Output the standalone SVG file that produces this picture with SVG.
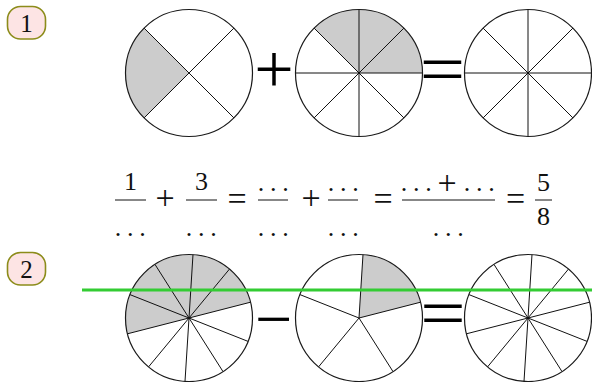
<svg xmlns="http://www.w3.org/2000/svg" width="592" height="382" viewBox="0 0 592 382">
<style>
.bg{fill:#ffffff}
.rim{fill:none;stroke:#1a1a1a;stroke-width:1.2}
.sp{stroke:#111;stroke-width:1;fill:none}
.sh{fill:#cccccc;stroke:none}
.lab rect{fill:#fde4e4;stroke:#8c8c1a;stroke-width:1.6}
.lab text{font-family:"Liberation Serif",serif;font-size:25px;fill:#111;text-anchor:middle}
.m{font-family:"Liberation Serif",serif;font-size:26px;fill:#111;text-anchor:middle}
.op{font-family:"Liberation Serif",serif;font-size:34px;fill:#111;text-anchor:middle}
.big{font-family:"Liberation Serif",serif;fill:#000;text-anchor:middle}
.bar{stroke:#111;stroke-width:1}
.green{stroke:#33cc33;stroke-width:3}
</style>
<rect class="bg" x="0" y="0" width="592" height="382"/>

<g id="label1" class="lab"><rect x="7.5" y="6.5" width="38" height="32.5" rx="13"/><text x="26.5" y="31.5">1</text></g>
<g id="label2" class="lab"><rect x="7.5" y="252.5" width="38" height="32.5" rx="13"/><text x="26.5" y="277.5">2</text></g>

<!-- Row 1 -->
<g id="r1c1">
<path class="sh" d="M189,73 L144.10,28.10 A63.5,63.5 0 0 0 144.10,117.90 Z"/>
<line class="sp" x1="144.10" y1="28.10" x2="233.90" y2="117.90"/>
<line class="sp" x1="233.90" y1="28.10" x2="144.10" y2="117.90"/>
<circle class="rim" cx="189" cy="73" r="63.5"/>
</g>
<g id="plus1"><text class="big" x="274" y="93" font-size="70">+</text></g>
<g id="r1c2">
<path class="sh" d="M359,73 L422.5,73 A63.5,63.5 0 0 0 359,9.5 A63.5,63.5 0 0 0 314.10,28.10 Z"/>
<line class="sp" x1="295.5" y1="73" x2="422.5" y2="73"/>
<line class="sp" x1="359" y1="9.5" x2="359" y2="136.5"/>
<line class="sp" x1="314.10" y1="28.10" x2="403.90" y2="117.90"/>
<line class="sp" x1="403.90" y1="28.10" x2="314.10" y2="117.90"/>
<circle class="rim" cx="359" cy="73" r="63.5"/>
</g>
<g id="eq1"><text class="big" transform="translate(442.5,92.5) scale(1.15,1)" x="0" y="0" font-size="70">=</text></g>
<g id="r1c3">
<line class="sp" x1="464.5" y1="73" x2="591.5" y2="73"/>
<line class="sp" x1="528" y1="9.5" x2="528" y2="136.5"/>
<line class="sp" x1="483.10" y1="28.10" x2="572.90" y2="117.90"/>
<line class="sp" x1="572.90" y1="28.10" x2="483.10" y2="117.90"/>
<circle class="rim" cx="528" cy="73" r="63.5"/>
</g>

<!-- Equation -->
<g id="equation">
<text class="m" x="130.5" y="189.5">1</text>
<line class="bar" x1="115" y1="200" x2="146" y2="200"/>
<text class="m" x="118 130.3 142.5" y="235.5">...</text>
<text class="op" x="165" y="208.7">+</text>
<text class="m" x="201.5" y="189.5">3</text>
<line class="bar" x1="186" y1="200" x2="217" y2="200"/>
<text class="m" x="189 201.3 213.5" y="235.5">...</text>
<text class="op" x="237" y="210">=</text>
<text class="m" x="261 273.3 285.5" y="191">...</text>
<line class="bar" x1="258" y1="200" x2="288" y2="200"/>
<text class="m" x="261 273.3 285.5" y="235.5">...</text>
<text class="op" x="311" y="208.7">+</text>
<text class="m" x="331 343.3 355.5" y="191">...</text>
<line class="bar" x1="328" y1="200" x2="358" y2="200"/>
<text class="m" x="331 343.3 355.5" y="235.5">...</text>
<text class="op" x="383" y="210">=</text>
<text class="m" x="404 416.3 428.5" y="191">...</text>
<text class="op" x="447" y="194">+</text>
<text class="m" x="467 479.3 491.5" y="191">...</text>
<line class="bar" x1="402" y1="200" x2="495" y2="200"/>
<text class="m" x="436 448.3 460.5" y="235.5">...</text>
<text class="op" x="515.5" y="210">=</text>
<text class="m" x="543.5" y="190.5">5</text>
<line class="bar" x1="535" y1="200" x2="552" y2="200"/>
<text class="m" x="543.5" y="225">8</text>
</g>

<!-- Row 2 -->
<g id="r2c1">
<path class="sh" d="M189,318 L250.50,302.21 A63.5,63.5 0 0 0 192.99,254.63 A63.5,63.5 0 0 0 127.50,333.79 Z"/>
<line class="sp" x1="189" y1="318" x2="250.50" y2="302.21"/>
<line class="sp" x1="189" y1="318" x2="229.48" y2="269.07"/>
<line class="sp" x1="189" y1="318" x2="192.99" y2="254.63"/>
<line class="sp" x1="189" y1="318" x2="154.97" y2="264.38"/>
<line class="sp" x1="189" y1="318" x2="129.96" y2="294.62"/>
<line class="sp" x1="189" y1="318" x2="127.50" y2="333.79"/>
<line class="sp" x1="189" y1="318" x2="148.52" y2="366.93"/>
<line class="sp" x1="189" y1="318" x2="185.01" y2="381.37"/>
<line class="sp" x1="189" y1="318" x2="223.03" y2="371.62"/>
<line class="sp" x1="189" y1="318" x2="248.04" y2="341.38"/>
<circle class="rim" cx="189" cy="318" r="63.5"/>
</g>
<g id="minus2"><text class="big" x="273.5" y="341" font-size="66">−</text></g>
<g id="r2c2">
<path class="sh" d="M359,318 L420.50,302.21 A63.5,63.5 0 0 0 362.99,254.63 Z"/>
<line class="sp" x1="359" y1="318" x2="420.50" y2="302.21"/>
<line class="sp" x1="359" y1="318" x2="362.99" y2="254.63"/>
<line class="sp" x1="359" y1="318" x2="299.96" y2="294.62"/>
<line class="sp" x1="359" y1="318" x2="318.52" y2="366.93"/>
<line class="sp" x1="359" y1="318" x2="393.03" y2="371.62"/>
<circle class="rim" cx="359" cy="318" r="63.5"/>
</g>
<g id="eq2"><text class="big" transform="translate(443,336.5) scale(1.15,1)" x="0" y="0" font-size="70">=</text></g>
<g id="r2c3">
<line class="sp" x1="528" y1="318" x2="589.50" y2="302.21"/>
<line class="sp" x1="528" y1="318" x2="568.48" y2="269.07"/>
<line class="sp" x1="528" y1="318" x2="531.99" y2="254.63"/>
<line class="sp" x1="528" y1="318" x2="493.97" y2="264.38"/>
<line class="sp" x1="528" y1="318" x2="468.96" y2="294.62"/>
<line class="sp" x1="528" y1="318" x2="466.50" y2="333.79"/>
<line class="sp" x1="528" y1="318" x2="487.52" y2="366.93"/>
<line class="sp" x1="528" y1="318" x2="524.01" y2="381.37"/>
<line class="sp" x1="528" y1="318" x2="562.03" y2="371.62"/>
<line class="sp" x1="528" y1="318" x2="587.04" y2="341.38"/>
<circle class="rim" cx="528" cy="318" r="63.5"/>
</g>

<g id="connectors">
<line class="green" x1="82" y1="290" x2="592" y2="290"/>
</g>
</svg>
